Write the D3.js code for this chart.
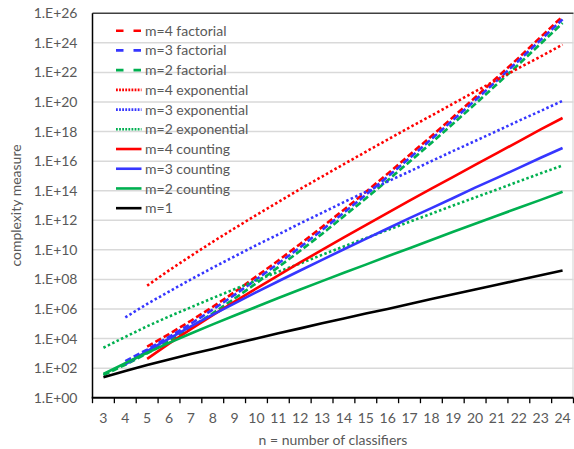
<!DOCTYPE html>
<html><head><meta charset="utf-8">
<script src="https://cdn.jsdelivr.net/npm/d3@7"></script>
<style>
body{margin:0;background:#fff;}
text{font-family:Lato,"Liberation Sans",sans-serif;fill:#595959;}
</style></head>
<body><svg id="c" width="574" height="449"></svg>
<script>
const categories = [3,4,5,6,7,8,9,10,11,12,13,14,15,16,17,18,19,20,21,22,23,24];
const yTicks = [1e0,1e2,1e4,1e6,1e8,1e10,1e12,1e14,1e16,1e18,1e20,1e22,1e24,1e26];
const yTickLabels = ["1.E+00","1.E+02","1.E+04","1.E+06","1.E+08","1.E+10","1.E+12","1.E+14","1.E+16","1.E+18","1.E+20","1.E+22","1.E+24","1.E+26"];

const m4Factorial = [null,null,2.9e3,2.0e4,1.6e5,1.4e6,1.4e7,1.6e8,1.9e9,2.5e10,3.5e11,5.2e12,8.3e13,1.4e15,2.6e16,4.9e17,9.8e18,2.0e20,4.5e21,1.0e23,2.5e24,6.2e25];
const m3Factorial = [null,3.0e2,1.8e3,1.3e4,1.0e5,9.1e5,9.1e6,1.0e8,1.2e9,1.5e10,2.2e11,3.3e12,5.2e13,8.9e14,1.6e16,3.1e17,6.2e18,1.3e20,2.8e21,6.5e22,1.6e24,3.9e25];
const m2Factorial = [3.4e1,1.7e2,1.0e3,7.1e3,5.8e4,5.1e5,5.1e6,5.6e7,6.8e8,8.7e9,1.2e11,1.9e12,3.0e13,5.0e14,9.1e15,1.7e17,3.5e18,7.2e19,1.6e21,3.6e22,8.9e23,2.2e25];
const m4Exponential = [null,null,3.8e7,4.1e8,3.9e9,3.5e10,2.9e11,2.3e12,1.7e13,1.3e14,9.1e14,6.3e15,4.3e16,2.9e17,1.9e18,1.2e19,7.9e19,5.1e20,3.2e21,2.0e22,1.2e23,7.6e23];
const m3Exponential = [null,2.7e5,2.2e6,1.5e7,1.0e8,6.2e8,3.6e9,2.1e10,1.1e11,6.2e11,3.2e12,1.7e13,8.3e13,4.2e14,2.0e15,1.0e16,4.9e16,2.3e17,1.1e18,5.4e18,2.5e19,1.2e20];
const m2Exponential = [2.4e3,1.3e4,6.8e4,3.1e5,1.3e6,5.5e6,2.2e7,8.5e7,3.3e8,1.2e9,4.6e9,1.7e10,6.2e10,2.2e11,7.9e11,2.8e12,1.0e13,3.5e13,1.2e14,4.3e14,1.5e15,5.1e15];
const m4Counting = [null,null,4.2e2,4.5e3,4.3e4,3.8e5,3.2e6,2.5e7,1.9e8,1.4e9,9.9e9,6.9e10,4.7e11,3.2e12,2.1e13,1.4e14,8.7e14,5.6e15,3.5e16,2.2e17,1.4e18,8.3e18];
const m3Counting = [null,1.8e2,1.4e3,1.0e4,6.7e4,4.1e5,2.4e6,1.4e7,7.5e7,4.0e8,2.1e9,1.1e10,5.5e10,2.8e11,1.4e12,6.7e12,3.2e13,1.6e14,7.4e14,3.5e15,1.7e16,7.8e16];
const m2Counting = [4.0e1,2.2e2,1.1e3,5.1e3,2.2e4,9.1e4,3.6e5,1.4e6,5.5e6,2.1e7,7.7e7,2.8e8,1.0e9,3.7e9,1.3e10,4.7e10,1.7e11,5.8e11,2.0e12,7.1e12,2.4e13,8.5e13];
const m1 = [2.4e1,6.4e1,1.6e2,3.8e2,9.0e2,2.0e3,4.6e3,1.0e4,2.3e4,4.9e4,1.1e5,2.3e5,4.9e5,1.0e6,2.2e6,4.7e6,1.0e7,2.1e7,4.4e7,9.2e7,1.9e8,4.0e8];

const seriesNames = ["m=4 factorial","m=3 factorial","m=2 factorial","m=4 exponential","m=3 exponential","m=2 exponential","m=4 counting","m=3 counting","m=2 counting","m=1"];
const seriesValues = [m4Factorial,m3Factorial,m2Factorial,m4Exponential,m3Exponential,m2Exponential,m4Counting,m3Counting,m2Counting,m1];

const RED="#ff0000", BLUE="#3636ff", GREEN="#00b050", BLACK="#000000";
const colors = [RED,BLUE,GREEN,RED,BLUE,GREEN,RED,BLUE,GREEN,BLACK];
const styles = ["dash","dash","dash","dot","dot","dot","solid","solid","solid","solid"];

const svg = d3.select("#c");
const L=92.5, R=573.5, T=13.3, B=397.7;
const x = d3.scaleBand().domain(categories).range([L,R]).padding(0);
const y = d3.scaleLog().domain([1,1e26]).range([B,T]);

svg.append("g").selectAll("line").data(yTicks.slice(1,-1)).join("line")
  .attr("x1",L).attr("x2",R).attr("y1",d=>y(d)).attr("y2",d=>y(d))
  .attr("stroke","#d9d9d9").attr("stroke-width",1.5);
svg.append("line").attr("x1",R-0.5).attr("x2",R-0.5).attr("y1",T).attr("y2",B).attr("stroke","#d9d9d9").attr("stroke-width",1.2);
svg.append("line").attr("x1",L).attr("x2",R).attr("y1",T).attr("y2",T).attr("stroke","#404040").attr("stroke-width",1.5);

svg.append("g").selectAll("text").data(yTicks).join("text")
  .attr("x",77.5).attr("y",d=>y(d)).attr("dy","0.36em").attr("text-anchor","end")
  .attr("font-size","14px").text((d,i)=>yTickLabels[i]);

const xAxis = d3.axisBottom(x).tickSize(0).tickPadding(0);
const gx = svg.append("g").attr("transform",`translate(0,${B})`).call(xAxis);
gx.select(".domain").remove();
gx.selectAll("text").attr("y",20).attr("dy","0.36em").attr("font-size","14px").attr("fill","#595959").attr("font-family","Lato,'Liberation Sans',sans-serif");
const bounds = categories.map(c=>x(c)).concat([R]);
svg.append("g").selectAll("line").data(bounds).join("line")
  .attr("x1",d=>d).attr("x2",d=>d).attr("y1",B).attr("y2",B+5.5)
  .attr("stroke","#000").attr("stroke-width",1.3);

const line = d3.line().defined(d=>d[1]!=null).x(d=>x(d[0])+x.bandwidth()/2).y(d=>y(d[1]));
const dashFor = s => s==="dash" ? "6.5,3" : s==="dot" ? "2.5,2.4" : null;
const plot = svg.append("g");
seriesValues.forEach((vals,i)=>{
  const pts = categories.map((c,j)=>[c,vals[j]]);
  plot.append("path").datum(pts).attr("d",line).attr("fill","none")
    .attr("stroke",colors[i]).attr("stroke-width",2.6)
    .attr("stroke-dasharray",dashFor(styles[i]));
});

svg.append("line").attr("x1",L).attr("x2",L).attr("y1",T).attr("y2",B).attr("stroke","#000").attr("stroke-width",1.5);
svg.append("line").attr("x1",L-0.8).attr("x2",R).attr("y1",B).attr("y2",B).attr("stroke","#000").attr("stroke-width",2);

const lg = svg.append("g");
seriesNames.forEach((name,i)=>{
  const yy = 30.7 + i*19.72;
  const legDash = styles[i]==="dash" ? "7.5,10" : styles[i]==="dot" ? "1.8,1.3" : null;
  lg.append("line").attr("x1",116).attr("x2",141.5).attr("y1",yy).attr("y2",yy)
    .attr("stroke",colors[i]).attr("stroke-width",2.6).attr("stroke-dasharray",legDash);
  lg.append("text").attr("x",145).attr("y",yy).attr("dy","0.36em").attr("font-size","14px").text(name);
});

svg.append("text").attr("x",(L+R)/2).attr("y",440).attr("dy","0.36em").attr("text-anchor","middle")
  .attr("font-size","14px").text("n = number of classifiers");
svg.append("text").attr("transform",`translate(16,${(T+B)/2}) rotate(-90)`).attr("dy","0.36em")
  .attr("text-anchor","middle").attr("font-size","14px").text("complexity measure");
</script></body></html>
